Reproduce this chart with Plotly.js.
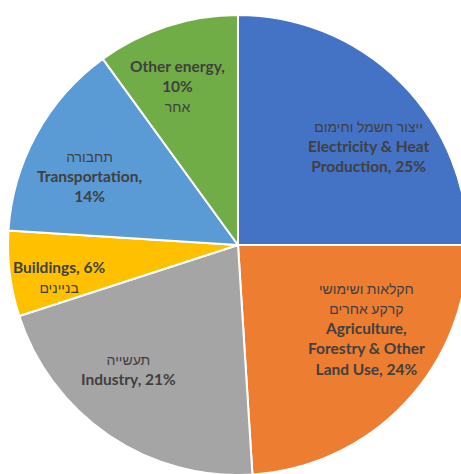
<!DOCTYPE html>
<html><head><meta charset="utf-8">
<script src="https://cdn.plot.ly/plotly-3.0.1.min.js"></script>
<style>html,body{margin:0;padding:0;overflow:hidden;background:#fff;width:461px;height:474px}</style>
</head><body><div id="chart"></div>
<script>
const categories = ["Electricity & Heat Production","Agriculture, Forestry & Other Land Use","Industry","Buildings","Transportation","Other energy"];
const values = [25, 24, 21, 6, 14, 10];
const hebrewNames = ["ייצור חשמל וחימום","חקלאות ושימושי<br>קרקע אחרים","תעשייה","בניינים","תחבורה","אחר"];
const colors = ["#4472C4","#ED7D31","#A5A5A5","#FFC000","#5B9BD5","#70AD47"];

const heb = s => "<span style='font-size:14px'>" + s + "</span>";
const labelTexts = [
  heb(hebrewNames[0]) + "<br><b>Electricity & Heat<br>Production, " + values[0] + "%</b>",
  heb(hebrewNames[1]) + "<br><b>Agriculture,<br>Forestry & Other<br>Land Use, " + values[1] + "%</b>",
  heb(hebrewNames[2]) + "<br><b>Industry, " + values[2] + "%</b>",
  "<b>Buildings, " + values[3] + "%</b><br>" + heb(hebrewNames[3]),
  heb(hebrewNames[4]) + "<br><b>Transportation,<br>" + values[4] + "%</b>",
  "<b>Other energy,<br>" + values[5] + "%</b><br>" + heb(hebrewNames[5])
];

// label placement style (radius fraction and angle tweak in degrees)
const labelRadius = [0.71, 0.67, 0.72, 0.79, 0.71, 0.74];
const labelAngleShift = [8, -10, 7, -3, -4, -3];

const W = 476, H = 490;
const dom = {x: [8/W, 468/W], y: [15/H, 475/H]};
const cx = (dom.x[0] + dom.x[1]) / 2 * W;
const cy = H - (dom.y[0] + dom.y[1]) / 2 * H;
const R = (dom.x[1] - dom.x[0]) * W / 2;
const total = values.reduce((a, b) => a + b, 0);

const annotations = [];
let cum = 0;
values.forEach((v, i) => {
  const mid = (cum + v / 2) / total * 360 + labelAngleShift[i];
  cum += v;
  const a = mid * Math.PI / 180;
  const px = cx + Math.sin(a) * R * labelRadius[i];
  const py = cy - Math.cos(a) * R * labelRadius[i];
  annotations.push({
    xref: "paper", yref: "paper", x: px / W, y: 1 - py / H,
    xanchor: "center", yanchor: "middle", showarrow: false, align: "center",
    text: labelTexts[i],
    font: {family: "Lato, 'Liberation Sans', 'DejaVu Sans', sans-serif", size: 15.5, color: "#404040"}
  });
});

Plotly.newPlot("chart", [{
  type: "pie",
  labels: categories,
  values: values,
  textinfo: "none",
  sort: false,
  direction: "clockwise",
  rotation: 0,
  marker: {colors: colors, line: {color: "#ffffff", width: 2}},
  domain: dom,
  hoverinfo: "none"
}], {
  width: W, height: H,
  margin: {l: 0, r: 0, t: 0, b: 0},
  showlegend: false,
  paper_bgcolor: "#ffffff",
  annotations: annotations
}, {staticPlot: true, displayModeBar: false});
</script></body></html>
